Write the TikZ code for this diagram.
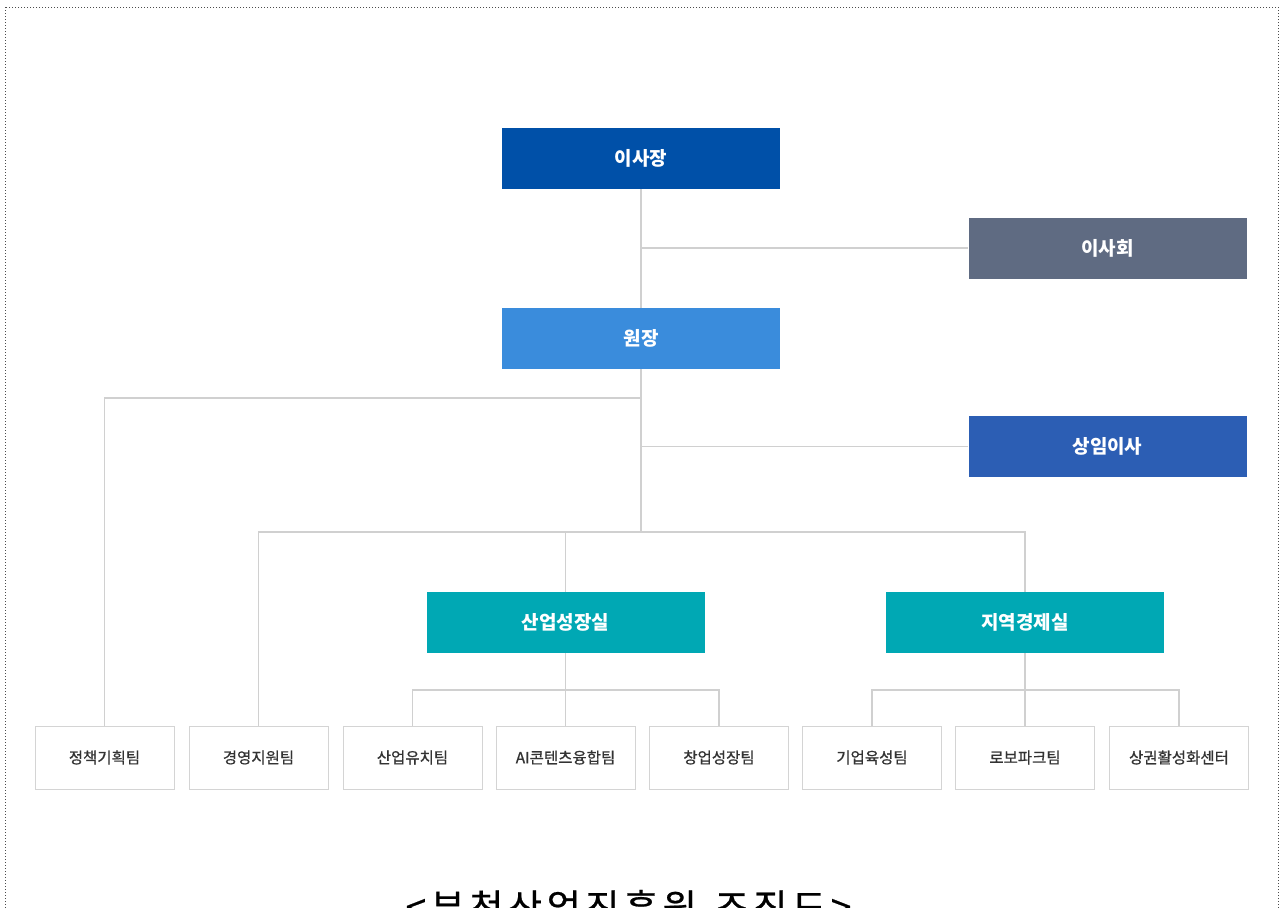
\documentclass[tikz,border=0pt]{standalone}
\usepackage{fontspec}
\setmainfont{Noto Sans CJK KR}
\newfontfamily\teamfont{Noto Sans CJK KR}[FakeBold=0.8]
\newfontfamily\titlefont{Noto Sans CJK KR}[LetterSpace=12.5, FakeBold=0.6]

\definecolor{chairblue}{HTML}{0050A8}
\definecolor{boardgray}{HTML}{5F6B82}
\definecolor{presblue}{HTML}{3A8CDC}
\definecolor{execblue}{HTML}{2C5EB4}
\definecolor{divteal}{HTML}{00A8B4}
\definecolor{linkgray}{HTML}{D0D0D0}
\definecolor{teamline}{HTML}{D4D4D4}
\definecolor{teamtext}{HTML}{333333}

\tikzset{
  topbox/.style={minimum width=278pt, minimum height=61pt, inner sep=0pt,
    text=white, font=\fontsize{19}{19}\selectfont\bfseries},
  team/.style={draw=teamline, line width=0.9pt, fill=white,
    minimum width=139pt, minimum height=63pt, inner sep=0pt,
    text=teamtext, font=\fontsize{15.5}{15.5}\teamfont},
  link/.style={draw=linkgray, line width=1.2pt}
}

\begin{document}
\begin{tikzpicture}[x=1pt, y=-1pt]
  \useasboundingbox (0,0) rectangle (1283,908);
  \clip (0,0) rectangle (1283,908);

  \draw[dotted, line width=1pt, draw=black!70] (5,7) rectangle (1278,940);

  % Leitung
  \node[topbox, fill=chairblue] (chair) at (641,158.5) {이사장};
  \node[topbox, fill=boardgray] (board) at (1107.5,248) {이사회};
  \node[topbox, fill=presblue]  (pres)  at (641,338.5) {원장};
  \node[topbox, fill=execblue]  (exec)  at (1107.5,446.5) {상임이사};
  \node[topbox, fill=divteal] (indgrow) at (565.5,622.5) {산업성장실};
  \node[topbox, fill=divteal] (regecon) at (1025,622.5) {지역경제실};

  % Teams
  \foreach \name/\x/\txt in {plan/104.5/정책기획팀, mgmt/258.5/경영지원팀,
      invest/412.5/산업유치팀, aicon/565.5/AI콘텐츠융합팀, startup/719/창업성장팀,
      bizgrow/872/기업육성팀, robo/1025/로보파크팀, market/1179/상권활성화센터}
    \node[team] (\name) at (\x,757.5) {\txt};

  \coordinate (fork1) at (641,398);
  \coordinate (fork2) at (641,532);
  \coordinate (fork3) at (565.5,690);
  \coordinate (fork4) at (1025,690);

  \draw[link] (chair) -- (pres);
  \draw[link] (chair |- board) -- (board);
  \draw[link] (pres) -- (fork2);
  \draw[link] (fork1) -| (plan);
  \draw[link] (pres |- exec) -- (exec);
  \draw[link] (mgmt) |- (fork2) -| (regecon);
  \draw[link] (indgrow |- fork2) -- (indgrow);

  \draw[link] (indgrow) -- (aicon);
  \draw[link] (invest) |- (fork3) -| (startup);
  \draw[link] (regecon) -- (robo);
  \draw[link] (bizgrow) |- (fork4) -| (market);

  \node[anchor=base, font=\fontsize{37}{37}\titlefont] (title) at (628.5,921)
    {<부천산업진흥원\hspace{18pt}조직도>};
\end{tikzpicture}
\end{document}
